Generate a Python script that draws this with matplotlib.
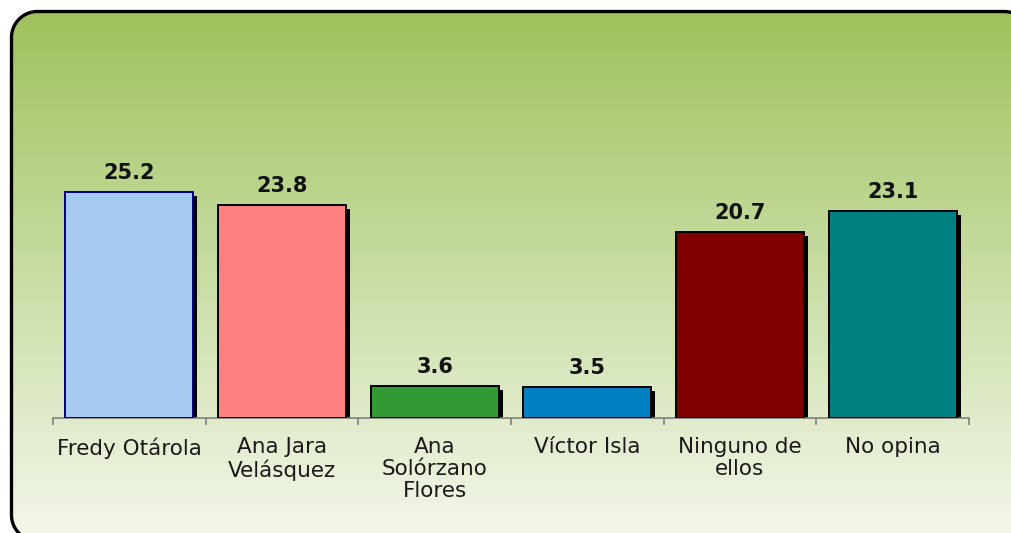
import numpy as np
import matplotlib
matplotlib.use("Agg")
import matplotlib.pyplot as plt
from matplotlib.patches import Polygon
import matplotlib.transforms as mtransforms

categories = ["Fredy Otárola", "Ana Jara\nVelásquez", "Ana\nSolórzano\nFlores",
              "Víctor Isla", "Ninguno de\nellos", "No opina"]
values = [25.2, 23.8, 3.6, 3.5, 20.7, 23.1]
bar_colors = ["#a6caf0", "#ff8080", "#339933", "#0080c0", "#800000", "#008080"]
edge_colors = ["#000080", "#000000", "#000000", "#000000", "#000000", "#000000"]

W, H = 1011, 533
fig = plt.figure(figsize=(W / 100, H / 100), dpi=100)
fig.patch.set_facecolor("white")


def rounded_rect(x0, y0, x1, y1, r, n=24):
    pts = []
    corners = [(x1 - r, y1 - r, 0), (x0 + r, y1 - r, 90), (x0 + r, y0 + r, 180), (x1 - r, y0 + r, 270)]
    for cx, cy, a0 in corners:
        ang = np.radians(np.linspace(a0, a0 + 90, n))
        pts.extend(zip(cx + r * np.cos(ang), cy + r * np.sin(ang)))
    return np.array(pts)


# background panel (pixel coordinates, y upward)
bg = fig.add_axes([0, 0, 1, 1])
bg.set_xlim(0, W)
bg.set_ylim(0, H)
bg.axis("off")
top = np.array([158, 194, 92]) / 255
bot = np.array([243, 247, 234]) / 255
t = np.linspace(0, 1, 256)[:, None]
grad = (top[None, :] * (1 - t) + bot[None, :] * t)[:, None, :]
grad = np.repeat(grad, 2, axis=1)

left_px, top_px, right_px, bottom_px = 11.5, 11.5, 1030, 541
verts = rounded_rect(left_px, H - bottom_px, right_px, H - top_px, 26)
im = bg.imshow(grad, extent=(0, W, 0, H - 10), aspect="auto", zorder=1, origin="upper")
clip = Polygon(verts, closed=True, facecolor="none", edgecolor="none", transform=bg.transData)
bg.add_patch(clip)
im.set_clip_path(clip)
panel = Polygon(verts, closed=True, facecolor="none", edgecolor="black", linewidth=2.4,
                joinstyle="round", zorder=3)
bg.add_patch(panel)

# main axes
ax = fig.add_axes([53 / W, 115 / H, 916 / W, 269 / H])
ax.patch.set_alpha(0)
ax.set_xlim(0, 6)
ax.set_ylim(0, 30)
x = np.arange(len(values)) + 0.5

shadow_tr = ax.transData + mtransforms.ScaledTranslation(4 / 100, -4 / 100, fig.dpi_scale_trans)
ax.bar(x, values, width=0.84, color="black", transform=shadow_tr, zorder=2)
ax.bar(x, values, width=0.84, color=bar_colors, edgecolor=edge_colors, linewidth=1.4, zorder=3)

for xi, v in zip(x, values):
    ax.annotate(f"{v:.1f}", (xi, v), xytext=(0, 6.5), textcoords="offset points",
                ha="center", va="bottom", fontsize=15, fontweight="bold", color="#111111")

for s in ["top", "right", "left"]:
    ax.spines[s].set_visible(False)
ax.spines["bottom"].set_color("#808080")
ax.spines["bottom"].set_linewidth(1.2)
ax.set_yticks([])
ax.set_xticks(np.arange(0, 7), minor=False)
ax.set_xticklabels([""] * 7)
ax.tick_params(axis="x", which="major", length=5, color="#808080", width=1.2)
ax.set_xticks(x, minor=True)
ax.set_xticklabels(categories, minor=True, fontsize=15.5, color="#1a1a1a", linespacing=1.1)
ax.tick_params(axis="x", which="minor", length=0, pad=14)

fig.savefig("out.png", dpi=100)
